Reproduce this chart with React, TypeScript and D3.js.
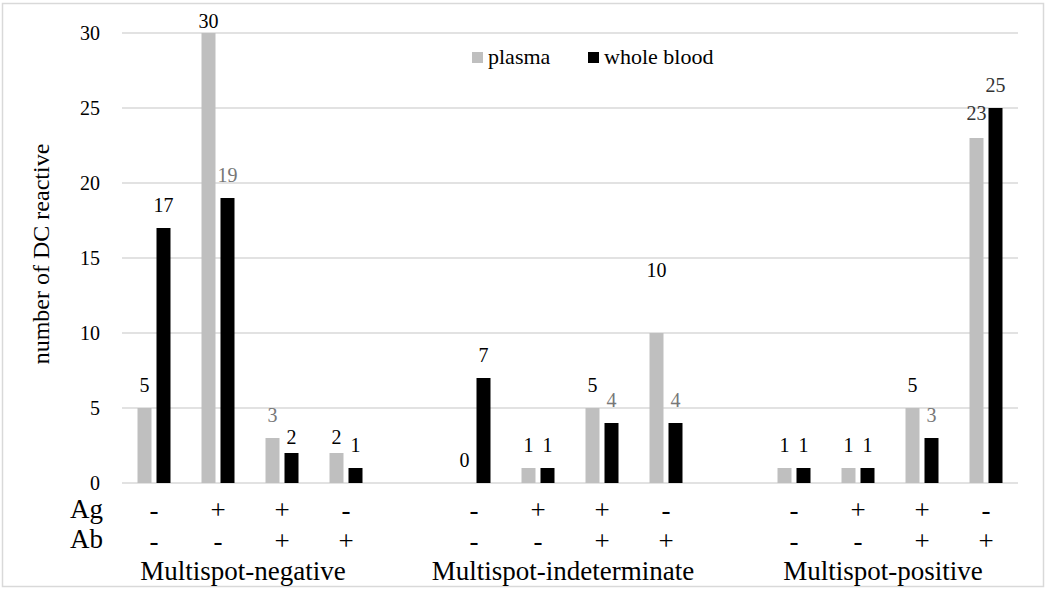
import React from "react";
import * as d3 from "d3";

const groups = ["Multispot-negative", "Multispot-indeterminate", "Multispot-positive"];
const agSigns = ["-", "+", "+", "-"];
const abSigns = ["-", "-", "+", "+"];
const series = ["plasma", "whole blood"];
const plasma = [5, 30, 3, 2, 0, 1, 5, 10, 1, 1, 5, 23];
const wholeBlood = [17, 19, 2, 1, 7, 1, 4, 4, 1, 1, 3, 25];
const yTicks = [0, 5, 10, 15, 20, 25, 30];

// label styling (tone + vertical gap above bar top), kept apart from the data
const plasmaLabelGap = [16, 5, 16, 9, 16, 16, 16, 56, 16, 16, 16, 18];
const wbLabelGap = [16, 16, 9, 16, 16, 16, 16, 16, 16, 16, 16, 16];
const plasmaLabelTone = ["#000", "#000", "#777", "#000", "#000", "#000", "#000", "#000", "#000", "#000", "#000", "#333"];
const wbLabelTone = ["#000", "#777", "#000", "#000", "#000", "#000", "#777", "#777", "#000", "#000", "#777", "#333"];

const colors = ["#bfbfbf", "#000000"];
const W = 1050, H = 591;
const PL = 122, PR = 1018, PT = 33, PB = 483;
const FONT = "Liberation Serif, Times New Roman, Times, serif";

export default function App() {
  const nSlots = groups.length * 4 + (groups.length - 1);
  const x = d3.scaleBand<number>().domain(d3.range(nSlots)).range([PL, PR]).padding(0);
  const inner = d3.scaleBand<string>().domain(series).range([0, x.bandwidth()]).paddingInner(5 / 19).paddingOuter(0.816);
  const y = d3.scaleLinear().domain([0, 30]).range([PB, PT]);
  const slotOf = (i: number) => Math.floor(i / 4) * 5 + (i % 4);

  const bars: any[] = [];
  plasma.forEach((v, i) => bars.push({ s: 0, v, i, gap: plasmaLabelGap[i], tone: plasmaLabelTone[i] }));
  wholeBlood.forEach((v, i) => bars.push({ s: 1, v, i, gap: wbLabelGap[i], tone: wbLabelTone[i] }));

  return (
    <svg width={W} height={H} style={{ position: "absolute", left: 0, top: 0, background: "#fff", fontFamily: FONT }}>
      <rect x={2.5} y={3.5} width={1041} height={583} fill="#fff" stroke="#d9d9d9" strokeWidth={1.5} />
      {yTicks.map((t) => (
        <g key={t}>
          <line x1={PL} x2={PR} y1={y(t)} y2={y(t)} stroke="#d9d9d9" strokeWidth={1.5} />
          <text x={100} y={y(t)} dy="0.35em" textAnchor="end" fontSize={20} fill="#000">{t}</text>
        </g>
      ))}
      <text transform={`translate(49,${(PT + PB) / 2 - 4}) rotate(-90)`} textAnchor="middle" fontSize={24} fill="#000">number of DC reactive</text>
      {bars.map((b) => {
        const slot = slotOf(b.i);
        const bx = (x(slot) as number) + (inner(series[b.s]) as number);
        const bw = inner.bandwidth();
        return (
          <g key={`${b.s}-${b.i}`}>
            {b.v > 0 && <rect x={bx} y={y(b.v)} width={bw} height={y(0) - y(b.v)} fill={colors[b.s]} />}
            <text x={bx + bw / 2} y={y(b.v) - b.gap} textAnchor="middle" fontSize={20} fill={b.tone}>{b.v}</text>
          </g>
        );
      })}
      {groups.map((g, gi) => (
        <g key={g}>
          {agSigns.map((s, k) => {
            const slot = gi * 5 + k;
            const cx = (x(slot) as number) + x.bandwidth() / 2;
            return (
              <g key={k}>
                <text x={cx} y={519} textAnchor="middle" fontSize={27} fill="#000">{s}</text>
                <text x={cx} y={550} textAnchor="middle" fontSize={27} fill="#000">{abSigns[k]}</text>
              </g>
            );
          })}
          <text x={(x(gi * 5) as number) + 2 * x.bandwidth() - 7} y={580} textAnchor="middle" fontSize={27} fill="#000">{g}</text>
        </g>
      ))}
      <text x={70} y={518} fontSize={27} fill="#000">Ag</text>
      <text x={70} y={548} fontSize={27} fill="#000">Ab</text>
      {series.map((s, i) => {
        const lx = i === 0 ? 472 : 588;
        return (
          <g key={s}>
            <rect x={lx} y={52} width={11} height={11} fill={colors[i]} />
            <text x={lx + 16} y={64} fontSize={22} fill="#000">{s}</text>
          </g>
        );
      })}
    </svg>
  );
}
